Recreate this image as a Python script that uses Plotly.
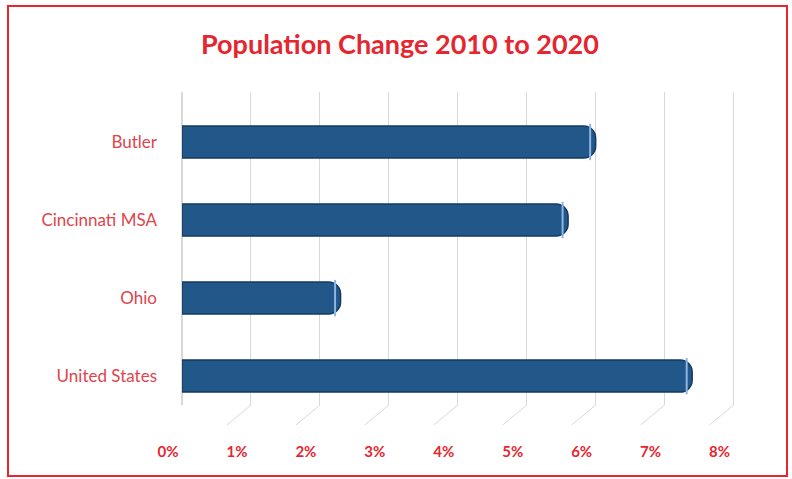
import plotly.graph_objects as go

# ── data ──
areas = ["Butler", "Cincinnati MSA", "Ohio", "United States"]
change_pct = [6.0, 5.6, 2.3, 7.4]
tick_vals = [0, 1, 2, 3, 4, 5, 6, 7, 8]
tick_text = ["0%", "1%", "2%", "3%", "4%", "5%", "6%", "7%", "8%"]

RED = "#E5262F"
BAR = "#22578A"
BAR_EDGE = "#163A5F"
GRID = "#D9D9D9"

W, H = 792, 479
L, R, T, B = 182, 55, 92, 74
pw, ph = W - L - R, H - T - B
x_max = 8.05
px_per_unit = pw / x_max

fig = go.Figure()

fig.add_trace(
    go.Bar(
        x=change_pct, y=areas, orientation="h",
        marker=dict(color=BAR, line=dict(color=BAR_EDGE, width=1.5)),
        width=0.41, showlegend=False, hoverinfo="x+y",
    )
)

# light rim at the end of each tube
fig.add_trace(
    go.Scatter(
        x=[v - 0.08 for v in change_pct], y=areas, mode="markers",
        marker=dict(symbol="line-ns-open", size=26, color="#8DB6E0",
                    line=dict(color="#8DB6E0", width=2)),
        showlegend=False, hoverinfo="skip",
    )
)

fig.update_layout(
    width=W, height=H,
    paper_bgcolor="white", plot_bgcolor="white",
    margin=dict(l=L, r=R, t=T, b=B, autoexpand=False),
    barcornerradius=12,
    font=dict(family="Open Sans, Lato, sans-serif", color=RED),
    title=dict(
        text="<b>Population Change 2010 to 2020</b>",
        x=0.505, xanchor="center", y=1 - 45 / H, yanchor="middle",
        font=dict(size=27, color=RED, family="Lato, Open Sans, sans-serif"),
    ),
)

fig.update_xaxes(
    range=[0, x_max], tickvals=tick_vals, ticktext=tick_text,
    showgrid=True, gridcolor=GRID, gridwidth=1,
    zeroline=True, zerolinecolor=GRID,
    showline=False, ticks="", ticklabelstandoff=36, ticklabelshift=-14,
    tickfont=dict(size=15, color=RED, family="Lato, sans-serif", weight="bold"),
)
fig.update_yaxes(
    type="category", categoryorder="array", categoryarray=areas,
    range=[3.37, -0.64], showgrid=False, zeroline=False,
    ticks="", ticklabelstandoff=24,
    tickfont=dict(size=17, color="#E0444C", family="Lato, sans-serif"),
)

# slanted floor lines continuing each gridline (3-D look)
for tv in tick_vals:
    fig.add_shape(
        type="line", xref="x", yref="paper",
        x0=tv, y0=0, x1=tv - 24 / px_per_unit, y1=-20 / ph,
        line=dict(color=GRID, width=1), layer="below",
    )

# red frame around the whole picture
fig.add_shape(
    type="rect", xref="paper", yref="paper",
    x0=(8 - L) / pw, x1=(787 - L) / pw,
    y0=(T + ph - 476) / ph, y1=(T + ph - 6) / ph,
    line=dict(color="#E8262E", width=2), fillcolor="rgba(0,0,0,0)",
    layer="above",
)

fig.write_html(
    "out.html",
    config={"displayModeBar": False},
    post_script="document.body.style.margin='0';",
)
